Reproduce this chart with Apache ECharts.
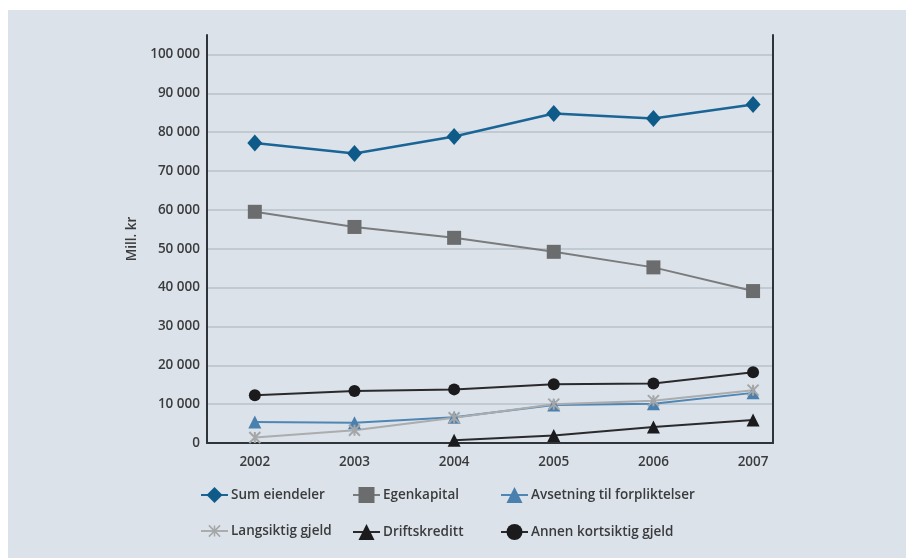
<!DOCTYPE html>
<html>
<head>
<meta charset="utf-8">
<script src="https://cdn.jsdelivr.net/npm/echarts@6/dist/echarts.min.js"></script>
<style>
  html, body { margin: 0; padding: 0; background: #ffffff; }
  #wrap { position: absolute; left: 8px; top: 10px; width: 898px; height: 548px; background: #dbe2ea; }
  #chart { position: absolute; left: -8px; top: -10px; width: 906px; height: 558px; }
</style>
</head>
<body>
<div id="wrap"><div id="chart"></div></div>
<script>
// Balanse 2002–2007, mill. kr
const years = [2002, 2003, 2004, 2005, 2006, 2007];
const sumEiendeler = [77200, 74500, 78900, 84800, 83500, 87100];
const egenkapital = [59500, 55600, 52800, 49200, 45200, 39100];
const avsetning = [5400, 5200, 6600, 9800, 10100, 12900];
const langsiktigGjeld = [1400, 3300, 6500, 10000, 10900, 13600];
const driftskreditt = [null, null, 700, 1900, 4100, 5900];
const annenKortsiktig = [12300, 13400, 13800, 15100, 15300, 18200];
const yTicks = [0, 10000, 20000, 30000, 40000, 50000, 60000, 70000, 80000, 90000, 100000];

const FONT = 'Open Sans';
const TEXT = '#3a3b3d';
const pair = (vals) => years.map((y, i) => [y, vals[i]]);

const seriesDefs = [
  { name: 'Sum eiendeler', data: sumEiendeler, color: '#0e5a88', line: '#1a6596', symbol: 'diamond', size: [15, 17], width: 2.5 },
  { name: 'Egenkapital', data: egenkapital, color: '#6b6c6e', line: '#7a7b7d', symbol: 'rect', size: 14, width: 2 },
  { name: 'Avsetning til forpliktelser', data: avsetning, color: '#4a80ae', line: '#4f86b4', symbol: 'triangle', size: 13, width: 2 },
  { name: 'Langsiktig gjeld', data: langsiktigGjeld, color: '#a4a6a8', line: '#aaacae', symbol: 'path://M-1,-1L1,1M1,-1L-1,1M0,-1L0,1', size: 11, width: 2, cross: true },
  { name: 'Driftskreditt', data: driftskreditt, color: '#1b1b1d', line: '#2a2a2c', symbol: 'triangle', size: 13, width: 2 },
  { name: 'Annen kortsiktig gjeld', data: annenKortsiktig, color: '#1b1b1d', line: '#2a2a2c', symbol: 'circle', size: 12, width: 2 }
];

const series = seriesDefs.map(d => ({
  name: d.name,
  type: 'line',
  data: pair(d.data),
  symbol: d.symbol,
  symbolSize: d.size,
  showAllSymbol: true,
  connectNulls: false,
  lineStyle: { color: d.line, width: d.width },
  itemStyle: d.cross
    ? { color: 'rgba(0,0,0,0)', borderColor: d.color, borderWidth: 2 }
    : { color: d.color, borderWidth: 0 },
  emphasis: { disabled: true },
  z: 3
}));

// legend positions: three columns, two rows
const legendCols = [200, 352, 500];
const legendRows = [487, 524];
const legends = seriesDefs.map((d, i) => ({
  data: [d.cross ? { name: d.name, itemStyle: { borderWidth: 1.5 } } : d.name],
  left: legendCols[i % 3],
  top: legendRows[Math.floor(i / 3)],
  padding: 0,
  itemWidth: 27,
  itemHeight: d.cross ? 14 : 20,
  itemGap: 4,
  selectedMode: false,
  textStyle: { fontFamily: FONT, fontSize: 13.5, fontWeight: 600, color: TEXT, padding: [0, 0, 0, -2] }
}));

const chart = echarts.init(document.getElementById('chart'), null, { renderer: 'canvas' });
chart.setOption({
  backgroundColor: 'transparent',
  animation: false,
  legend: legends,
  grid: { left: 207, right: 133, top: 35, bottom: 115, containLabel: false },
  xAxis: {
    type: 'value',
    min: 2001.52,
    max: 2007.2,
    axisLine: { show: true, lineStyle: { color: '#2f333a', width: 2 } },
    axisTick: { show: false },
    splitLine: { show: false },
    axisLabel: {
      customValues: years,
      formatter: v => String(v),
      fontFamily: FONT, fontSize: 13.5, fontWeight: 600, color: TEXT, margin: 12
    }
  },
  yAxis: [{
    type: 'value',
    min: 0,
    max: 105000,
    interval: 10000,
    name: 'Mill. kr',
    nameLocation: 'middle',
    nameGap: 68,
    nameRotate: 90,
    nameTextStyle: { fontFamily: FONT, fontSize: 13.5, fontWeight: 600, color: TEXT },
    axisLine: { show: true, lineStyle: { color: '#2f333a', width: 2 } },
    axisTick: { show: false },
    splitLine: { show: true, showMaxLine: false, showMinLine: false, lineStyle: { color: '#b9c0c8', width: 1.5 } },
    axisLabel: {
      customValues: yTicks,
      formatter: v => v === 0 ? '0' : (v / 1000) + ' 000',
      fontFamily: FONT, fontSize: 13.5, fontWeight: 600, color: TEXT, margin: 7
    }
  }, {
    type: 'value',
    position: 'right',
    min: 0,
    max: 105000,
    interval: 10000,
    axisLine: { show: true, lineStyle: { color: '#2f333a', width: 2 } },
    axisTick: { show: false },
    axisLabel: { show: false },
    splitLine: { show: false }
  }],
  series: series
});
</script>
</body>
</html>
